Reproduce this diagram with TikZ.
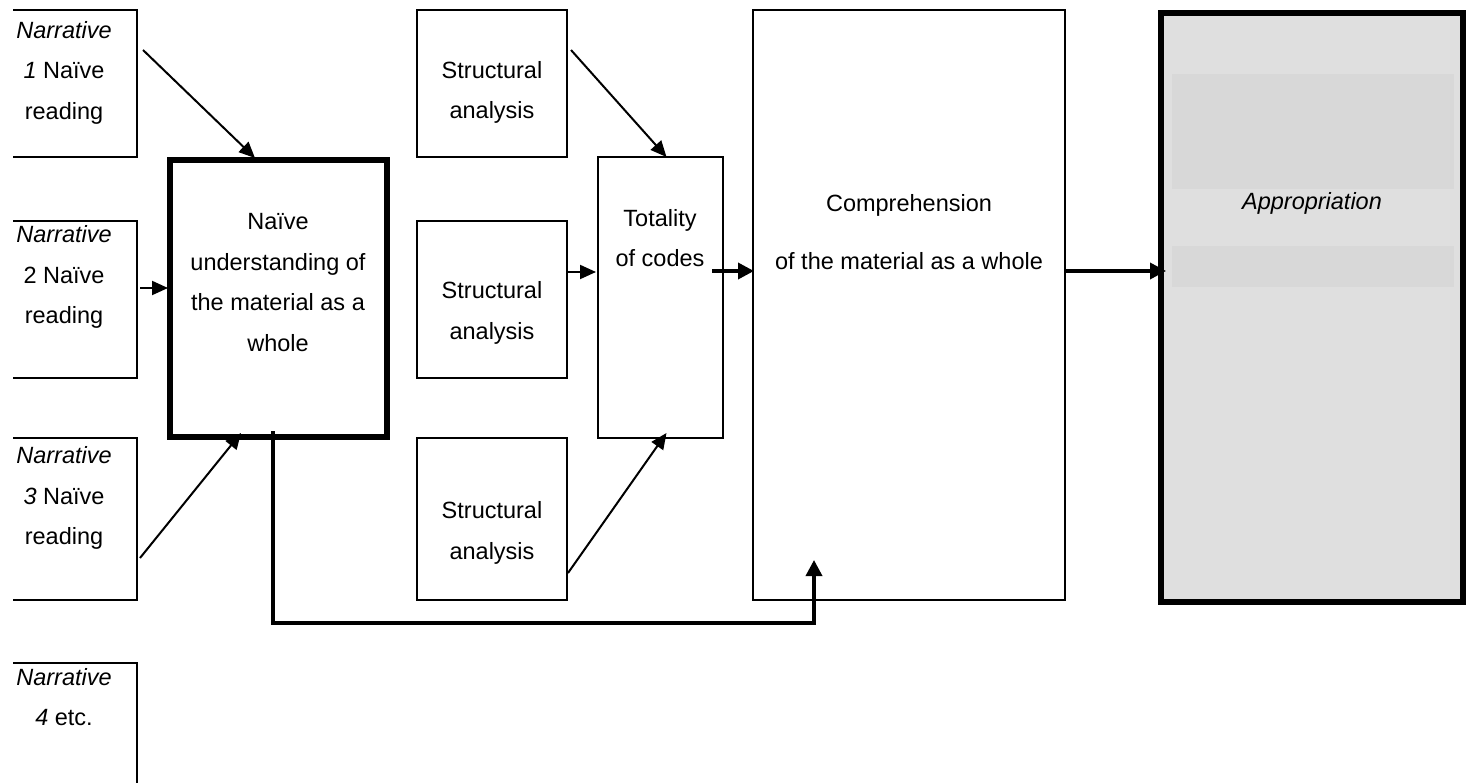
\documentclass[tikz,border=0pt]{standalone}
\usepackage{fontspec}
\setmainfont{Liberation Sans}
\usetikzlibrary{arrows.meta}
\definecolor{apgray}{HTML}{DFDFDF}
\definecolor{bandgray}{HTML}{D8D8D8}
\begin{document}
\begin{tikzpicture}[x=1pt,y=-1pt,
  openbox/.style={inner sep=0pt,outer sep=0pt},
  box/.style={draw,line width=2pt,inner sep=0pt,outer sep=0pt},
  txt/.style={align=center,inner sep=0pt,font=\fontsize{23.5}{40.5}\selectfont},
  arr/.style={line width=2pt,-{Triangle[length=16pt,width=14pt]}},
  thickarr/.style={line width=3.5pt,-{Triangle[length=16pt,width=16pt]}}]
\useasboundingbox (0,0) rectangle (1475,783);
% narratives, open on the left
\node[openbox,minimum width=124pt,minimum height=147pt] (n1) at (75,83.5) {};
\node[openbox,minimum width=124pt,minimum height=157pt] (n2) at (75,299.5) {};
\node[openbox,minimum width=124pt,minimum height=162pt] (n3) at (75,519) {};
\node[openbox,minimum width=124pt,minimum height=120pt] (n4) at (75,723) {};
\foreach \n in {n1,n2,n3}
  \draw[line width=2pt] (\n.north west) -- (\n.north east) -- (\n.south east) -- (\n.south west);
\draw[line width=2pt] (n4.north west) -- (n4.north east) -- (n4.south east);
\node[txt] (tn1) at (64,72.5) {\textit{Narrative}\\\textit{1} Naïve\\reading};
\node[txt] (tn2) at (64,277) {\textit{Narrative}\\2 Naïve\\reading};
\node[txt] (tn3) at (64,498) {\textit{Narrative}\\\textit{3} Naïve\\reading};
\node[txt] (tn4) at (64,697) {\textit{Narrative}\\\textit{4} etc.};
% naive understanding
\node[box,line width=6pt,minimum width=217pt,minimum height=277pt] (naive) at (278.5,298.5) {};
\node[txt] (tnaive) at (278,282.5) {Naïve\\understanding of\\the material as a\\whole};
% structural analyses
\node[box,minimum width=150pt,minimum height=147pt] (s1) at (492,83.5) {};
\node[box,minimum width=150pt,minimum height=157pt] (s2) at (492,299.5) {};
\node[box,minimum width=150pt,minimum height=162pt] (s3) at (492,519) {};
\node[txt] (ts1) at (492,92.5) {Structural\\analysis};
\node[txt] (ts2) at (492,313) {Structural\\analysis};
\node[txt] (ts3) at (492,533) {Structural\\analysis};
% totality, comprehension
\node[box,minimum width=125pt,minimum height=281pt] (tot) at (660.5,297.5) {};
\node[txt] (ttot) at (660,238) {Totality\\of codes};
\node[box,minimum width=312pt,minimum height=590pt] (comp) at (909,305) {};
\node[txt,font=\fontsize{23.5}{58}\selectfont] (tcomp) at (909,232) {Comprehension\\of the material as a whole};
% appropriation
\node[box,line width=6pt,fill=apgray,minimum width=302pt,minimum height=589pt] (appro) at (1312,307.5) {};
\fill[bandgray] (1172,74) rectangle (1454,189);
\fill[bandgray] (1172,246) rectangle (1454,287);
\node[txt] (tappro) at (1312,203) {\textit{Appropriation}};
% connectors
\draw[arr] ([shift={(6,40)}]n1.north east) -- ([shift={(85,-2)}]naive.north west);
\draw[arr] ([shift={(3,-11.5)}]n2.east) -- ([shift={(-2,-10.5)}]naive.west);
\draw[arr] ([shift={(3,39)}]n3.east) -- ([shift={(71,-4)}]naive.south west);
\draw[arr] ([shift={(4,40)}]s1.north east) -- ([xshift=6]tot.north);
\draw[arr] ([shift={(0,-27.5)}]s2.east) -- ([shift={(-2,-25.5)}]tot.west);
\draw[arr] ([shift={(1,54)}]s3.east) -- ([shift={(6,-5)}]tot.south);
\draw[thickarr] ([shift={(-11,-26.5)}]tot.east) -- ([shift={(1,-34)}]comp.west);
\draw[thickarr] ([shift={(0,-34)}]comp.east) -- ([shift={(5,-36.5)}]appro.west);
\coordinate (fb) at (814,623);
\draw[thickarr] ([shift={(-5.5,-6)}]naive.south) |- (fb) -- ([shift={(-95,-40)}]comp.south);
\end{tikzpicture}
\end{document}
